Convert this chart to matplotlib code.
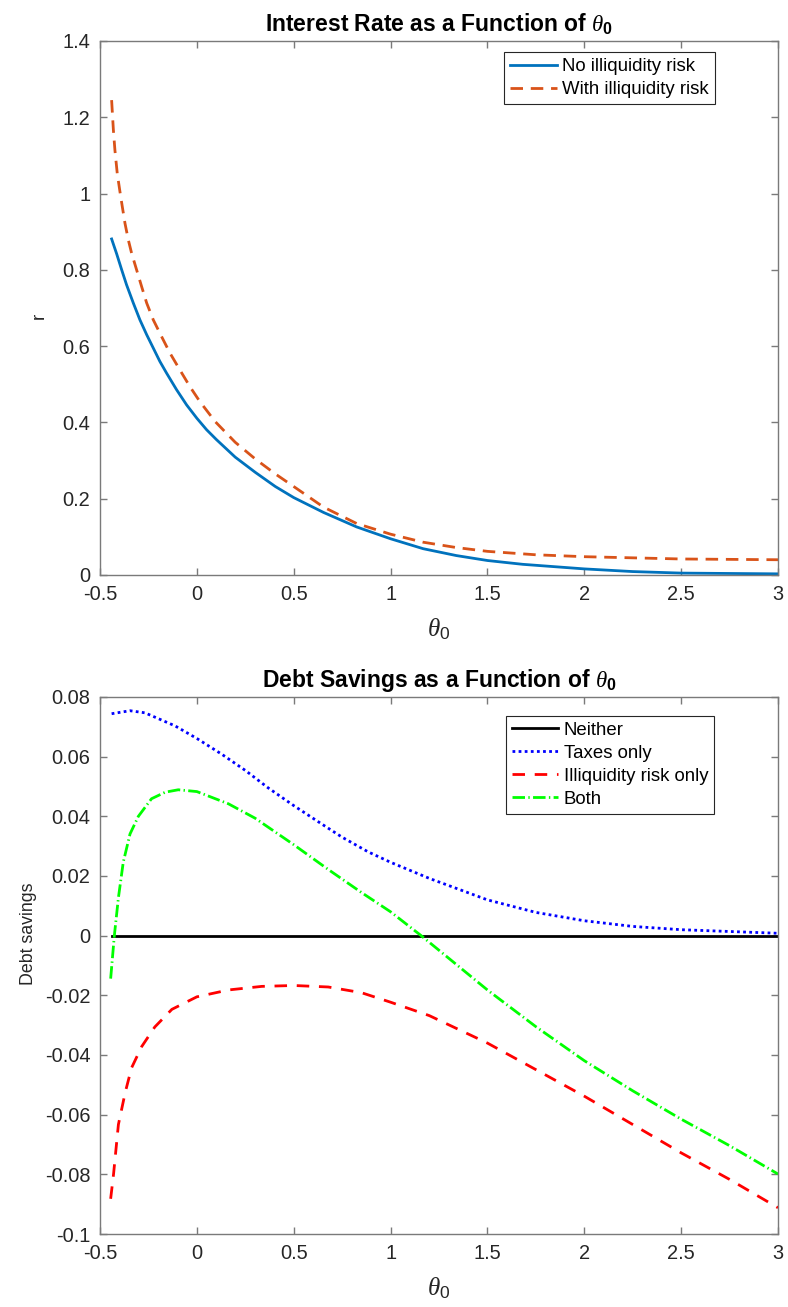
import matplotlib
matplotlib.use("Agg")
import matplotlib.pyplot as plt

# ---------------- data ----------------
theta_noil = [-0.44, -0.414, -0.388, -0.363, -0.328, -0.294, -0.259, -0.225, -0.191, -0.156,
              -0.105, -0.053, 0.0, 0.05, 0.101, 0.198, 0.302, 0.405, 0.5, 0.654, 0.825, 1.0,
              1.168, 1.339, 1.5, 1.682, 2.0, 2.25, 2.5, 3.0]
r_noil = [0.881, 0.842, 0.800, 0.761, 0.713, 0.669, 0.630, 0.595, 0.560, 0.529,
          0.486, 0.446, 0.411, 0.381, 0.355, 0.309, 0.269, 0.232, 0.203, 0.164, 0.126, 0.095,
          0.069, 0.051, 0.038, 0.028, 0.016, 0.009, 0.005, 0.003]

theta_with = [-0.44, -0.431, -0.423, -0.411, -0.397, -0.385, -0.371, -0.354, -0.337, -0.311,
              -0.285, -0.259, -0.225, -0.182, -0.139, -0.088, -0.036, 0.015, 0.095, 0.198,
              0.302, 0.405, 0.5, 0.654, 0.825, 1.0, 1.168, 1.339, 1.5, 1.75, 2.0, 2.5, 3.0]
r_with = [1.245, 1.167, 1.114, 1.053, 1.005, 0.966, 0.922, 0.879, 0.844, 0.800,
          0.756, 0.713, 0.669, 0.625, 0.582, 0.538, 0.494, 0.455, 0.402, 0.348,
          0.304, 0.265, 0.232, 0.178, 0.135, 0.107, 0.086, 0.072, 0.062, 0.053, 0.048, 0.042, 0.040]

theta_neither = [-0.44, 3.0]
ds_neither = [0.0, 0.0]

theta_taxes = [-0.44, -0.345, -0.268, -0.112, 0.0, 0.129, 0.25, 0.369, 0.5, 0.643, 0.75,
               0.884, 1.0, 1.2, 1.5, 1.75, 2.0, 2.25, 2.5, 2.75, 3.0]
ds_taxes = [0.0744, 0.0754, 0.0747, 0.0703, 0.0661, 0.0608, 0.0554, 0.0495, 0.0436, 0.0375, 0.0330,
            0.0281, 0.0246, 0.0192, 0.0120, 0.0078, 0.0050, 0.0031, 0.0020, 0.0014, 0.0008]

theta_ill = [-0.445, -0.43, -0.405, -0.37, -0.337, -0.285, -0.217, -0.129, 0.0, 0.163, 0.335,
             0.5, 0.678, 0.849, 1.0, 1.2, 1.5, 1.75, 2.0, 2.25, 2.5, 2.75, 3.0]
ds_ill = [-0.0882, -0.0799, -0.0633, -0.0526, -0.0443, -0.0372, -0.0306, -0.0247, -0.0205, -0.0182, -0.0170,
          -0.0167, -0.0172, -0.0191, -0.0223, -0.0268, -0.0360, -0.0449, -0.0538, -0.0633, -0.0728, -0.0817, -0.0912]

theta_both = [-0.445, -0.426, -0.405, -0.38, -0.345, -0.302, -0.234, -0.163, -0.096, 0.0, 0.163,
              0.30, 0.5, 0.678, 0.849, 1.0, 1.158, 1.5, 1.75, 2.0, 2.25, 2.5, 2.75, 3.0]
ds_both = [-0.0144, 0.0, 0.0127, 0.0246, 0.0341, 0.0400, 0.0459, 0.0481, 0.0489, 0.0483, 0.0442,
           0.0394, 0.0305, 0.0222, 0.0145, 0.0080, 0.0, -0.0182, -0.0305, -0.0419, -0.0520, -0.0615, -0.0704, -0.0799]

xticks = [-0.5, 0, 0.5, 1, 1.5, 2, 2.5, 3]
xticklabels = ["-0.5", "0", "0.5", "1", "1.5", "2", "2.5", "3"]
yticks_top = [0, 0.2, 0.4, 0.6, 0.8, 1.0, 1.2, 1.4]
yticklabels_top = ["0", "0.2", "0.4", "0.6", "0.8", "1", "1.2", "1.4"]
yticks_bot = [-0.1, -0.08, -0.06, -0.04, -0.02, 0, 0.02, 0.04, 0.06, 0.08]
yticklabels_bot = ["-0.1", "-0.08", "-0.06", "-0.04", "-0.02", "0", "0.02", "0.04", "0.06", "0.08"]

# ---------------- style ----------------
plt.rcParams['font.family'] = ['Liberation Sans', 'DejaVu Sans']
plt.rcParams['mathtext.fontset'] = 'custom'
plt.rcParams['mathtext.rm'] = 'Liberation Sans'
plt.rcParams['mathtext.it'] = 'Liberation Serif:italic'
plt.rcParams['mathtext.bf'] = 'Liberation Sans:bold'
plt.rcParams['axes.unicode_minus'] = False

AX_COLOR = '#7a7a7a'
TXT_COLOR = '#262626'
TICK_FS = 14.4
TITLE_FS = 16.5
LEG_FS = 13.4

fig = plt.figure(figsize=(7.88, 13.07), dpi=100)
ax1 = fig.add_axes([100/788, 1-575/1307, 678/788, 534/1307])
ax2 = fig.add_axes([100/788, 1-1234/1307, 678/788, 537/1307])


def style(ax):
    for s in ax.spines.values():
        s.set_color(AX_COLOR)
        s.set_linewidth(1.0)
    ax.tick_params(direction='in', length=5, width=1.0, color=AX_COLOR,
                   labelcolor=TXT_COLOR, labelsize=TICK_FS, top=True, right=True, pad=7)
    ax.set_xlim(-0.5, 3)
    ax.set_xticks(xticks)
    ax.set_xticklabels(xticklabels)


def legend(ax, anchor):
    leg = ax.legend(loc='upper right', bbox_to_anchor=anchor, fontsize=LEG_FS,
                    frameon=True, fancybox=False, edgecolor=TXT_COLOR, framealpha=1,
                    handlelength=2.5, handletextpad=0.3, borderpad=0.32, labelspacing=0.32,
                    borderaxespad=0)
    leg.get_frame().set_linewidth(0.8)
    return leg


# ---- top ----
style(ax1)
ax1.plot(theta_noil, r_noil, color='#0072BD', lw=2.0, label='No illiquidity risk')
ax1.plot(theta_with, r_with, color='#D95319', lw=2.0, dashes=(4.5, 2.8), label='With illiquidity risk')
ax1.set_ylim(0, 1.4)
ax1.set_yticks(yticks_top)
ax1.set_yticklabels(yticklabels_top)
ax1.set_title(r'Interest Rate as a Function of $\theta_\mathbf{0}$', fontsize=TITLE_FS,
              fontweight='bold', pad=7, color='black')
ax1.set_xlabel(r'$\theta_0$', fontsize=18, color=TXT_COLOR, labelpad=9)
ax1.set_ylabel('r', fontsize=13.5, color=TXT_COLOR)
ax1.yaxis.set_label_coords(-0.077, 0.485)
legend(ax1, (0.907, 0.979))

# ---- bottom ----
style(ax2)
ax2.plot(theta_neither, ds_neither, color='black', lw=2.0, label='Neither')
ax2.plot(theta_taxes, ds_taxes, color='#0000FF', lw=2.0, dashes=(1.0, 1.2), label='Taxes only')
ax2.plot(theta_ill, ds_ill, color='#FF0000', lw=2.0, dashes=(4.5, 3.5), label='Illiquidity risk only')
ax2.plot(theta_both, ds_both, color='#00FF00', lw=2.0, dashes=(4.5, 1.2, 0.5, 1.2), label='Both')
ax2.set_ylim(-0.1, 0.08)
ax2.set_yticks(yticks_bot)
ax2.set_yticklabels(yticklabels_bot)
ax2.set_title(r'Debt Savings as a Function of $\theta_\mathbf{0}$', fontsize=TITLE_FS,
              fontweight='bold', pad=7, color='black')
ax2.set_xlabel(r'$\theta_0$', fontsize=18, color=TXT_COLOR, labelpad=9)
ax2.set_ylabel('Debt savings', fontsize=12.8, color=TXT_COLOR)
ax2.yaxis.set_label_coords(-0.093, 0.56)
legend(ax2, (0.906, 0.965))

fig.savefig('out.png', dpi=100)
